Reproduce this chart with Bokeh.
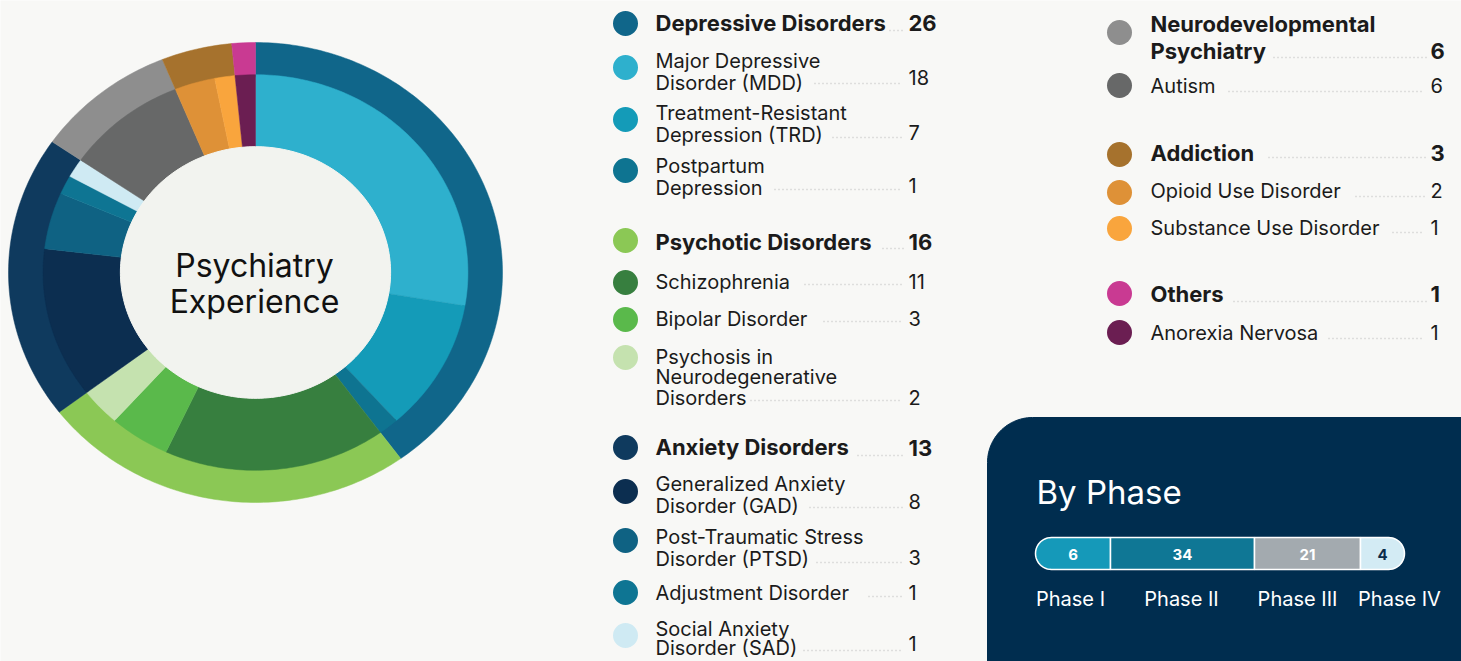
import numpy as np
from bokeh.plotting import figure
from bokeh.models import Range1d
from bokeh.core.properties import value
from bokeh.embed import file_html
from bokeh.resources import INLINE

# ---------------- data ----------------
groups = ["Depressive Disorders", "Psychotic Disorders", "Anxiety Disorders",
          "Neurodevelopmental\nPsychiatry", "Addiction", "Others"]
group_values = [26, 16, 13, 6, 3, 1]
group_colors = ["#10668A", "#8BC855", "#0F3A5E", "#8E8E8E", "#A6722D", "#C93A92"]

sub_labels = ["Major Depressive\nDisorder (MDD)", "Treatment-Resistant\nDepression (TRD)",
              "Postpartum\nDepression", "Schizophrenia", "Bipolar Disorder",
              "Psychosis in\nNeurodegenerative\nDisorders",
              "Generalized Anxiety\nDisorder (GAD)", "Post-Traumatic Stress\nDisorder (PTSD)",
              "Adjustment Disorder", "Social Anxiety\nDisorder (SAD)", "Autism",
              "Opioid Use Disorder", "Substance Use Disorder", "Anorexia Nervosa"]
sub_values = [18, 7, 1, 11, 3, 2, 8, 3, 1, 1, 6, 2, 1, 1]
sub_group = [0, 0, 0, 1, 1, 1, 2, 2, 2, 2, 3, 4, 4, 5]
sub_colors = ["#2EB0CD", "#149BB8", "#0E7491", "#377F3F", "#5AB94B", "#C5E2AF",
              "#0C2E50", "#0F6283", "#0E7593", "#CFEAF3", "#676868",
              "#DE9137", "#F9A53D", "#6B1E52"]

center_title = ["Psychiatry", "Experience"]

phases = ["Phase I", "Phase II", "Phase III", "Phase IV"]
phase_values = [6, 34, 21, 4]
phase_colors = ["#1599B9", "#0F7795", "#A3AAAF", "#D3EBF4"]
phase_value_colors = ["#FFFFFF", "#FFFFFF", "#FFFFFF", "#0B2C4B"]
panel_title = "By Phase"

# ---------------- layout ----------------
BG = "#F8F8F6"
FONT = value("Inter")
TXT = "#1B1B1B"
W, H = 1461, 661

p = figure(width=W, height=H, x_range=Range1d(0, W), y_range=Range1d(H, 0),
           output_backend="svg", toolbar_location=None, min_border=0,
           x_axis_type=None, y_axis_type=None,
           background_fill_color=BG, border_fill_color=BG, outline_line_color=None)
p.grid.visible = False

# donut in its own elliptical unit coordinates (center (255,272), rx 247, ry 230)
CX, CY, RX, RY = 255, 272, 247, 230
p.extra_x_ranges = {"d": Range1d((0 - CX) / RX, (W - CX) / RX)}
p.extra_y_ranges = {"d": Range1d((CY - H) / RY, (CY - 0) / RY)}

R_OUT, R_MID, R_HOLE = 1.0, 0.86, 0.547


def ring(vals, r0, r1):
    tot = float(sum(group_values))
    cum = np.concatenate([[0], np.cumsum(vals)]) / tot * 2 * np.pi
    xs, ys = [], []
    for a0, a1 in zip(cum[:-1], cum[1:]):
        t = np.linspace(a0, a1, max(4, int((a1 - a0) * 60)))
        xo, yo = r1 * np.sin(t), r1 * np.cos(t)
        xi, yi = r0 * np.sin(t[::-1]), r0 * np.cos(t[::-1])
        xs.append(np.concatenate([xo, xi]).tolist())
        ys.append(np.concatenate([yo, yi]).tolist())
    return xs, ys


gx, gy = ring(group_values, R_MID - 0.01, R_OUT)
p.patches(gx, gy, fill_color=group_colors, line_color=group_colors, line_width=0.5,
          x_range_name="d", y_range_name="d")
sx, sy = ring(sub_values, R_HOLE, R_MID)
p.patches(sx, sy, fill_color=sub_colors, line_color=sub_colors, line_width=0.5,
          x_range_name="d", y_range_name="d")
th = np.linspace(0, 2 * np.pi, 240)
p.patch((R_HOLE * np.sin(th)).tolist(), (R_HOLE * np.cos(th)).tolist(),
        fill_color="#F2F3EF", line_color="#F2F3EF", x_range_name="d", y_range_name="d")

p.text(x=[254, 254], y=[265, 301], text=center_title, text_font=FONT,
       text_font_size="32px", text_color="#111111", text_align="center",
       text_baseline="middle")

# legend entries: (kind, index, col, first line y, dot y, leader x0, leader y, value y)
entries = [
    ("g", 0, 0, 22, 23, 889, 30, 22),
    ("s", 0, 0, 60, 67, 814, 83, 77),
    ("s", 1, 0, 112, 119, 832, 137, 132),
    ("s", 2, 0, 165, 170, 774, 189, 185),
    ("g", 1, 0, 241, 240, 882, 248, 241),
    ("s", 3, 0, 281, 282, 804, 284, 281),
    ("s", 4, 0, 318, 319, 823, 321, 318),
    ("s", 5, 0, 356, 357, 750, 400, 397),
    ("g", 2, 0, 446, 447, 857, 455, 447),
    ("s", 6, 0, 483, 491, 809, 507, 501),
    ("s", 7, 0, 536, 540, 816, 562, 557),
    ("s", 8, 0, 592, 592, 868, 596, 592),
    ("s", 9, 0, 628, 635, 803, 650, 643),
    ("g", 3, 1, 23, 32, 1273, 57, 50),
    ("s", 10, 1, 85, 85, 1228, 91, 85),
    ("g", 4, 1, 152, 154, 1268, 157, 152),
    ("s", 11, 1, 190, 192, 1355, 196, 190),
    ("s", 12, 1, 227, 228, 1392, 232, 227),
    ("g", 5, 1, 293, 293, 1233, 301, 293),
    ("s", 13, 1, 332, 332, 1328, 338, 332),
]
COL_DOT = [625, 1119]
COL_TXT = [655, 1150]
COL_VAL = [908, 1430]
COL_LEND = [902, 1424]

dot_x, dot_y, dot_c = [], [], []
tx, ty, tt, tfs, tst = [], [], [], [], []
lx0, lx1, ly = [], [], []
vx, vy, vt, vfs, vst = [], [], [], [], []
for kind, i, col, y0, dy, lead0, leady, valy in entries:
    if kind == "g":
        label, val, color, fs, st, step = groups[i], group_values[i], group_colors[i], "22px", "bold", 27
    else:
        label, val, color, fs, st, step = sub_labels[i], sub_values[i], sub_colors[i], "20px", "normal", 22
    lines = label.split("\n")
    if len(lines) == 3:
        step = 20.5
    if i == 9 and kind == "s":
        step = 19.5
    dot_x.append(COL_DOT[col]); dot_y.append(dy); dot_c.append(color)
    for k, ln in enumerate(lines):
        tx.append(COL_TXT[col]); ty.append(y0 + k * step); tt.append(ln); tfs.append(fs); tst.append(st)
    lx0.append(lead0); lx1.append(COL_LEND[col] + (3 if kind == "g" else 0)); ly.append(leady)
    vx.append(COL_VAL[col]); vy.append(valy); vt.append(str(val)); vfs.append(fs); vst.append(st)

p.segment(x0=lx0, y0=ly, x1=lx1, y1=ly, line_color="#C4C4C4", line_width=1.3, line_dash="1 3")
p.scatter(x=dot_x, y=dot_y, size=25, fill_color=dot_c, line_color=None)
p.text(x=tx, y=ty, text=tt, text_font=FONT, text_font_size=tfs, text_font_style=tst,
       text_color=TXT, text_baseline="middle", text_align="left")
p.text(x=vx, y=vy, text=vt, text_font=FONT, text_font_size=vfs, text_font_style=vst,
       text_color=TXT, text_baseline="middle", text_align="left")

# ---------------- phase panel ----------------
PX0, PY0, PR = 987, 417, 45
a = np.linspace(np.pi, 1.5 * np.pi, 30)
panel_x = [PX0, PX0] + (PX0 + PR + PR * np.cos(a)).tolist() + [W + 40, W + 40]
panel_y = [H + 40, PY0 + PR] + (PY0 + PR + PR * np.sin(a)).tolist() + [PY0, H + 40]
p.patch(panel_x, panel_y, fill_color="#002D4F", line_color="#002D4F")
p.text(x=[1036], y=[491], text=[panel_title], text_font=FONT, text_font_size="33px",
       text_color="#FFFFFF", text_baseline="middle")

edges = [1035, 1110, 1254, 1360, 1404]
BY0, BY1 = 537, 569
BR = (BY1 - BY0) / 2
BCY = (BY0 + BY1) / 2
bx, by = [], []
for k in range(len(phase_values)):
    e0, e1 = edges[k], edges[k + 1]
    if k == 0:
        t = np.linspace(0.5 * np.pi, 1.5 * np.pi, 25)
        xs = (e0 + BR + BR * np.cos(t)).tolist() + [e1, e1]
        ys = (BCY + BR * np.sin(t)).tolist() + [BY0, BY1]
    elif k == len(phase_values) - 1:
        t = np.linspace(1.5 * np.pi, 2.5 * np.pi, 25)
        xs = [e0] + (e1 - BR + BR * np.cos(t)).tolist() + [e0]
        ys = [BY0] + (BCY + BR * np.sin(t)).tolist() + [BY1]
    else:
        xs = [e0, e1, e1, e0]
        ys = [BY0, BY0, BY1, BY1]
    bx.append(xs); by.append(ys)
p.patches(bx, by, fill_color=phase_colors, line_color="#FFFFFF", line_width=1.5)

centers = [(edges[k] + edges[k + 1]) / 2 for k in range(len(phase_values))]
p.text(x=centers, y=[554] * 4, text=[str(v) for v in phase_values], text_font=FONT,
       text_font_size="15px", text_font_style="bold", text_color=phase_value_colors,
       text_align="center", text_baseline="middle")
label_x = [1070, 1181, 1297, 1399]
p.text(x=label_x, y=[598] * 4, text=phases, text_font=FONT, text_font_size="20px",
       text_color="#FFFFFF", text_align="center", text_baseline="middle")

open("out.html", "w").write(file_html(p, INLINE))
